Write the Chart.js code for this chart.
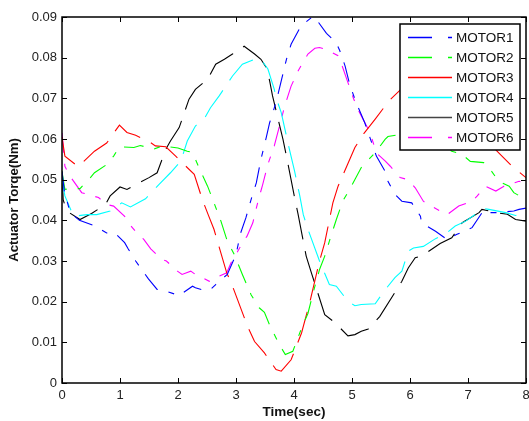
<!DOCTYPE html>
<html lang="en">
<head>
    <meta charset="UTF-8">
    <title>Actuator Torque</title>
    <style>
        body {
            margin: 0;
            background-color: #fff;
        }
        canvas {
            display: block;
        }
    </style>
</head>
<body>
    <canvas id="torqueChart" width="529" height="421"></canvas>
    <script src="https://cdn.jsdelivr.net/npm/chart.js"></script>
    <script>
        // [time (sec), torque (Nm)]
        const motor1 = [[0,0.052],[0.05,0.046],[0.08,0.0451],[0.14,0.0419],[0.3,0.040],[0.57,0.0386],[0.77,0.0369],[0.91,0.0369],[1.08,0.0345],[1.14,0.033],[1.27,0.030],[1.49,0.0256],[1.64,0.023],[1.77,0.0227],[2.02,0.0215],[2.25,0.0238],[2.30,0.0234],[2.45,0.0228],[2.56,0.023],[2.65,0.0242],[2.85,0.0267],[3.0,0.0316],[3.08,0.0369],[3.17,0.0406],[3.27,0.0456],[3.35,0.0492],[3.43,0.055],[3.52,0.0603],[3.58,0.064],[3.69,0.069],[3.78,0.0743],[3.87,0.0796],[3.95,0.0833],[4.12,0.0878],[4.33,0.0902],[4.41,0.0889],[4.56,0.086],[4.73,0.0836],[4.79,0.0817],[4.88,0.078],[4.96,0.0734],[5.05,0.0698],[5.1,0.068],[5.22,0.064],[5.42,0.0558],[5.6,0.0513],[5.62,0.0496],[5.74,0.0464],[5.86,0.0447],[6.03,0.0443],[6.18,0.041],[6.2,0.0394],[6.44,0.0373],[6.64,0.0353],[6.8,0.0365],[6.98,0.0376],[7.07,0.0382],[7.27,0.0425],[7.36,0.0419],[7.53,0.0419],[7.79,0.0423],[7.88,0.0427],[8,0.043]];
        const motor2 = [[0,0.052],[0.05,0.0476],[0.14,0.0478],[0.31,0.0478],[0.49,0.0505],[0.56,0.0517],[0.77,0.0537],[0.89,0.0558],[0.99,0.0581],[1.24,0.0579],[1.35,0.0584],[1.58,0.0575],[1.73,0.0583],[1.84,0.0581],[2.0,0.0578],[2.16,0.057],[2.25,0.0567],[2.36,0.053],[2.51,0.0484],[2.61,0.0447],[2.74,0.0398],[2.85,0.0349],[2.97,0.0316],[3.11,0.0267],[3.26,0.0217],[3.40,0.0185],[3.49,0.0174],[3.59,0.0139],[3.75,0.0094],[3.85,0.007],[3.98,0.0078],[4.12,0.0131],[4.24,0.0171],[4.33,0.0222],[4.44,0.0279],[4.53,0.0312],[4.61,0.0349],[4.73,0.0402],[4.84,0.0447],[4.99,0.0484],[5.16,0.053],[5.37,0.0562],[5.42,0.057],[5.57,0.0599],[5.62,0.0606],[5.85,0.0612],[6.1,0.0612],[6.4,0.0598],[6.72,0.057],[6.9,0.0562],[7.04,0.0545],[7.27,0.0542],[7.36,0.053],[7.53,0.0496],[7.71,0.0484],[7.79,0.0468],[8,0.0451]];
        const motor3 = [[0,0.0605],[0.05,0.0558],[0.28,0.0532],[0.56,0.057],[0.77,0.059],[0.99,0.0634],[1.12,0.0616],[1.27,0.0609],[1.51,0.0593],[1.61,0.0583],[1.79,0.0581],[1.96,0.0558],[2.10,0.0538],[2.28,0.0513],[2.42,0.0451],[2.52,0.0414],[2.62,0.0378],[2.84,0.0271],[2.94,0.0238],[3.20,0.0139],[3.32,0.0102],[3.49,0.0074],[3.69,0.0033],[3.78,0.0029],[3.95,0.0057],[4.13,0.0123],[4.27,0.0197],[4.44,0.030],[4.53,0.0345],[4.67,0.0443],[4.76,0.0484],[5.05,0.0579],[5.19,0.0611],[5.40,0.0649],[5.64,0.0694],[5.9,0.073],[6.2,0.075],[6.6,0.072],[7.0,0.066],[7.3,0.060],[7.53,0.0566],[7.76,0.0533],[8,0.0505]];
        const motor4 = [[0,0.05],[0.05,0.046],[0.2,0.041],[0.43,0.0414],[0.6,0.0414],[0.83,0.0423],[1.03,0.0443],[1.18,0.0433],[1.44,0.0453],[1.67,0.0488],[1.87,0.0517],[2.05,0.0546],[2.16,0.0595],[2.30,0.0632],[2.45,0.0649],[2.56,0.0677],[2.71,0.0706],[2.94,0.0755],[3.11,0.0784],[3.3,0.0795],[3.43,0.0796],[3.55,0.0772],[3.66,0.0722],[3.69,0.0702],[3.78,0.0665],[3.92,0.0575],[4.01,0.0521],[4.10,0.046],[4.16,0.0414],[4.24,0.0378],[4.44,0.030],[4.61,0.0242],[4.73,0.0238],[4.93,0.0201],[5.05,0.019],[5.16,0.0193],[5.40,0.0195],[5.57,0.0229],[5.74,0.0259],[5.86,0.0275],[5.97,0.0324],[6.06,0.0332],[6.23,0.0336],[6.44,0.0355],[6.6,0.0365],[6.78,0.0386],[6.96,0.0398],[7.13,0.0415],[7.27,0.0429],[7.36,0.0427],[7.65,0.0419],[7.82,0.0412],[8,0.0417]];
        const motor5 = [[0,0.052],[0.02,0.0451],[0.08,0.0423],[0.31,0.0402],[0.51,0.0417],[0.75,0.0439],[0.83,0.046],[1.0,0.0482],[1.12,0.0476],[1.27,0.0488],[1.50,0.0505],[1.64,0.0517],[1.79,0.0575],[1.87,0.0595],[2.02,0.0628],[2.19,0.0698],[2.30,0.0722],[2.51,0.0747],[2.65,0.0784],[2.80,0.0796],[2.94,0.0809],[3.14,0.0828],[3.32,0.0809],[3.43,0.0796],[3.52,0.0776],[3.58,0.0743],[3.63,0.0706],[3.81,0.0599],[3.87,0.0558],[4.01,0.0456],[4.07,0.0415],[4.21,0.0312],[4.30,0.0271],[4.53,0.0168],[4.70,0.0149],[4.93,0.0116],[5.05,0.0119],[5.16,0.0127],[5.28,0.0133],[5.48,0.0164],[5.86,0.025],[5.97,0.0283],[6.09,0.0308],[6.20,0.0312],[6.52,0.0343],[6.72,0.0357],[6.90,0.0394],[7.19,0.0419],[7.24,0.0427],[7.48,0.0419],[7.68,0.0415],[7.82,0.0402],[8,0.0398]];
        const motor6 = [[0,0.0615],[0.05,0.0533],[0.14,0.0508],[0.34,0.0468],[0.63,0.0456],[0.77,0.0439],[0.89,0.0435],[1.08,0.041],[1.12,0.0398],[1.29,0.0369],[1.41,0.0353],[1.53,0.033],[1.72,0.0304],[1.80,0.030],[1.99,0.0275],[2.07,0.0267],[2.22,0.0275],[2.28,0.0269],[2.54,0.025],[2.61,0.0256],[2.84,0.0271],[2.94,0.0304],[3.0,0.0316],[3.13,0.0349],[3.19,0.0361],[3.29,0.0394],[3.38,0.0447],[3.46,0.0488],[3.55,0.0538],[3.66,0.0583],[3.84,0.0681],[3.95,0.073],[4.07,0.0767],[4.12,0.078],[4.24,0.0809],[4.36,0.0823],[4.44,0.0825],[4.53,0.0821],[4.76,0.0805],[4.82,0.0784],[4.9,0.0751],[5.02,0.0702],[5.1,0.0673],[5.31,0.0616],[5.42,0.0566],[5.57,0.0546],[5.66,0.0533],[5.83,0.0505],[5.97,0.05],[6.09,0.048],[6.23,0.0447],[6.29,0.0441],[6.52,0.0423],[6.64,0.0414],[6.84,0.0435],[7.07,0.0447],[7.16,0.046],[7.30,0.0484],[7.48,0.0472],[7.62,0.0484],[7.88,0.0496],[8,0.0492]];

        const motorLabels = ['MOTOR1', 'MOTOR2', 'MOTOR3', 'MOTOR4', 'MOTOR5', 'MOTOR6'];
        const motorColors = ['#0000ff', '#00ff00', '#ff0000', '#00ffff', '#000000', '#ff00ff'];
        const xTicks = [0, 1, 2, 3, 4, 5, 6, 7, 8];
        const yTicks = [0, 0.01, 0.02, 0.03, 0.04, 0.05, 0.06, 0.07, 0.08, 0.09];

        const FONT = "'Liberation Sans', Arial, sans-serif";
        const dashDot = [20, 11, 6, 11];
        const longDash = [32, 12];
        const lineDash = [dashDot, dashDot, longDash, longDash, longDash, dashDot];
        const legendDash = [[24, 16, 4, 100], [24, 16, 4, 100], [], [], [], [24, 16, 4, 100]];

        const series = [motor1, motor2, motor3, motor4, motor5, motor6];

        // MATLAB style box: frame, inward ticks on all sides, legend inside the axes
        const matlabBox = {
            id: 'matlabBox',
            afterDatasetsDraw(chart) {
                const c = chart.ctx;
                const a = chart.chartArea;
                const xs = chart.scales.x, ys = chart.scales.y;
                c.save();
                c.strokeStyle = '#000';
                c.lineWidth = 1;
                c.beginPath();
                xTicks.forEach(t => {
                    const px = Math.round(xs.getPixelForValue(t)) + 0.5;
                    c.moveTo(px, a.bottom); c.lineTo(px, a.bottom - 5);
                    c.moveTo(px, a.top); c.lineTo(px, a.top + 5);
                });
                yTicks.forEach(v => {
                    const py = Math.round(ys.getPixelForValue(v)) + 0.5;
                    c.moveTo(a.left, py); c.lineTo(a.left + 5, py);
                    c.moveTo(a.right, py); c.lineTo(a.right - 5, py);
                });
                c.stroke();
                c.lineWidth = 1.5;
                c.strokeRect(a.left, a.top, a.right - a.left, a.bottom - a.top);

                // legend
                const bx = a.right - 126, by = a.top + 7, bw = 120, bh = 126;
                c.fillStyle = '#fff';
                c.fillRect(bx, by, bw, bh);
                c.lineWidth = 1.5;
                c.strokeRect(bx, by, bw, bh);
                c.font = '13.5px ' + FONT;
                c.textBaseline = 'middle';
                motorLabels.forEach((name, i) => {
                    const ry = by + 13.5 + i * 20;
                    c.strokeStyle = i === 4 ? '#444' : motorColors[i];
                    c.lineWidth = 1.5;
                    c.setLineDash(legendDash[i]);
                    c.beginPath();
                    c.moveTo(bx + 8, ry); c.lineTo(bx + 52, ry);
                    c.stroke();
                    c.setLineDash([]);
                    c.fillStyle = '#111';
                    c.fillText(name, bx + 56, ry + 1);
                });
                c.restore();
            }
        };

        const ctx = document.getElementById('torqueChart').getContext('2d');
        new Chart(ctx, {
            type: 'line',
            data: {
                datasets: series.map((pts, i) => ({
                    label: motorLabels[i],
                    data: pts.map(p => ({ x: p[0], y: p[1] })),
                    borderColor: motorColors[i],
                    borderWidth: 1.1,
                    borderDash: lineDash[i],
                    pointRadius: 0,
                    tension: 0,
                    fill: false
                }))
            },
            options: {
                responsive: false,
                animation: false,
                layout: { padding: { top: 17, right: 3, left: 0, bottom: 0 } },
                plugins: {
                    legend: { display: false },
                    tooltip: { enabled: false }
                },
                scales: {
                    x: {
                        type: 'linear',
                        min: 0,
                        max: 8,
                        afterBuildTicks: s => { s.ticks = xTicks.map(v => ({ value: v })); },
                        afterFit: s => { s.height = 38; s.paddingLeft = 0; s.paddingRight = 0; },
                        grid: { display: false, drawTicks: false },
                        border: { display: false },
                        ticks: {
                            padding: 5,
                            color: '#222',
                            font: { family: FONT, size: 13 },
                            maxRotation: 0
                        },
                        title: {
                            display: true,
                            text: 'Time(sec)',
                            color: '#111',
                            font: { family: FONT, size: 13.5, weight: 'bold' },
                            padding: { top: 0, bottom: 1 }
                        }
                    },
                    y: {
                        min: 0,
                        max: 0.09,
                        afterBuildTicks: s => { s.ticks = yTicks.map(v => ({ value: v })); },
                        afterFit: s => { s.width = 62; s.paddingTop = 0; s.paddingBottom = 0; },
                        grid: { display: false, drawTicks: false },
                        border: { display: false },
                        ticks: {
                            padding: 5,
                            color: '#222',
                            font: { family: FONT, size: 13 },
                            callback: v => v === 0 ? '0' : v.toFixed(2)
                        },
                        title: {
                            display: true,
                            text: 'Actuator Torqe(Nm)',
                            color: '#111',
                            font: { family: FONT, size: 13.2, weight: 'bold' },
                            padding: { top: 6, bottom: 0 }
                        }
                    }
                }
            },
            plugins: [matlabBox]
        });
    </script>
</body>
</html>
